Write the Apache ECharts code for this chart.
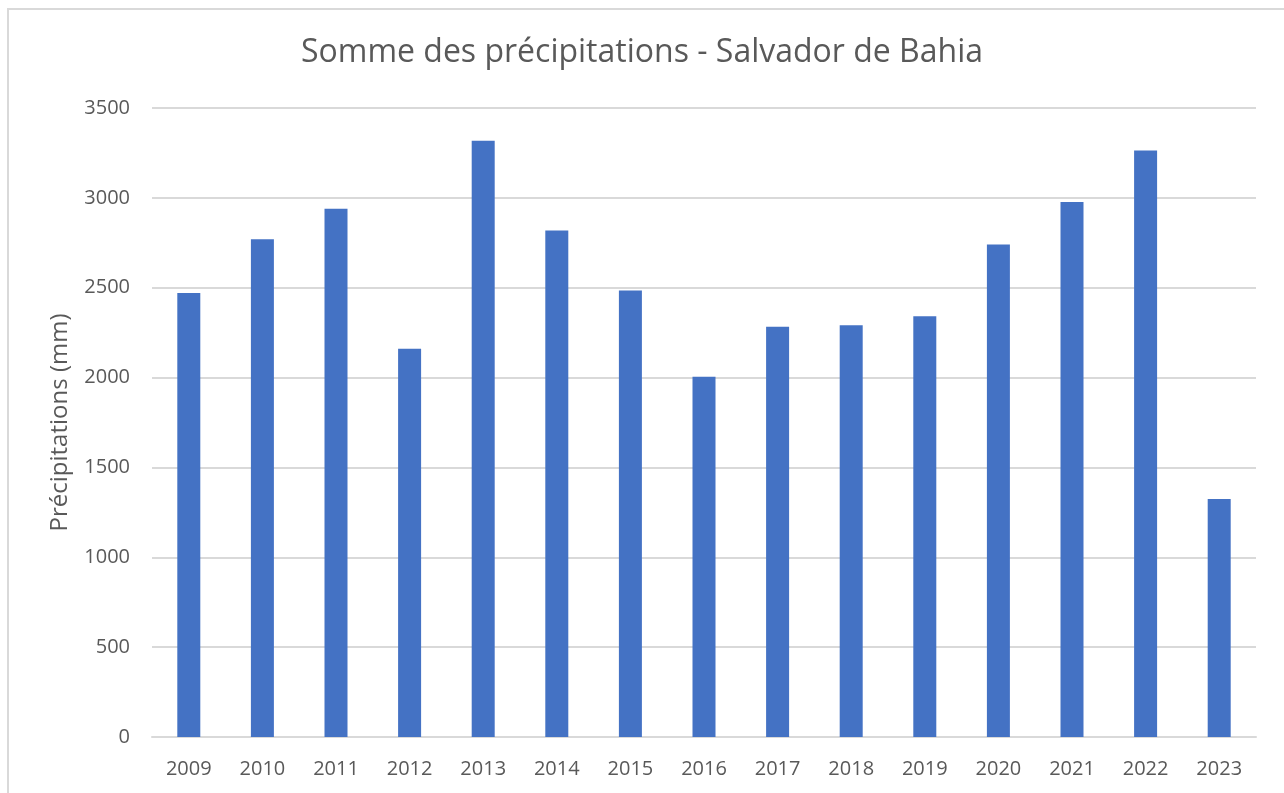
<!DOCTYPE html>
<html>
<head>
<meta charset="utf-8">
<script src="https://cdn.jsdelivr.net/npm/echarts@6/dist/echarts.min.js"></script>
<style>
    html, body { margin: 0; padding: 0; background: #fff; overflow: hidden; }
    #frame {
        position: absolute; left: 7px; top: 8px; width: 1400px; height: 900px;
        border-left: 2px solid #d9d9d9; border-top: 2px solid #d9d9d9;
        pointer-events: none;
    }
    #main { position: absolute; left: 0; top: 0; width: 1284px; height: 793px; }
</style>
</head>
<body>
<div id="main"></div>
<div id="frame"></div>
<script>
var years = ['2009', '2010', '2011', '2012', '2013', '2014', '2015', '2016', '2017', '2018', '2019', '2020', '2021', '2022', '2023'];
var precipitations = [2470, 2769, 2940, 2161, 3318, 2819, 2484, 2005, 2283, 2291, 2341, 2740, 2977, 3263, 1324];
var yTicks = [0, 500, 1000, 1500, 2000, 2500, 3000, 3500];

var font = '"Segoe UI", "Open Sans", "Noto Sans", sans-serif';
var myChart = echarts.init(document.getElementById('main'));
var option = {
    backgroundColor: '#fff',
    animation: false,
    textStyle: { fontFamily: font },
    title: {
        text: 'Somme des précipitations - Salvador de Bahia',
        left: 'center',
        top: 32,
        textStyle: {
            color: '#595959',
            fontSize: 32,
            fontWeight: 'normal',
            fontFamily: font
        }
    },
    grid: {
        left: 152,
        right: 28,
        top: 108,
        bottom: 56,
        containLabel: false
    },
    xAxis: {
        type: 'category',
        data: years,
        axisTick: { show: false },
        axisLine: {
            show: true,
            lineStyle: { color: '#d9d9d9', width: 2 }
        },
        axisLabel: {
            color: '#595959',
            fontSize: 20,
            margin: 22,
            fontFamily: font
        }
    },
    yAxis: {
        type: 'value',
        min: yTicks[0],
        max: yTicks[yTicks.length - 1],
        interval: 500,
        name: 'Précipitations (mm)',
        nameLocation: 'middle',
        nameGap: 80,
        nameTextStyle: {
            color: '#595959',
            fontSize: 24,
            fontFamily: font
        },
        axisLine: { show: false },
        axisTick: { show: false },
        axisLabel: {
            color: '#595959',
            fontSize: 20,
            margin: 22,
            fontFamily: font,
            formatter: function(v) { return String(v); }
        },
        splitLine: {
            lineStyle: { color: '#d9d9d9', width: 2 }
        }
    },
    series: [{
        type: 'bar',
        data: precipitations,
        barWidth: 23,
        itemStyle: { color: '#4472c4' }
    }]
};
myChart.setOption(option, true);
</script>
</body>
</html>
